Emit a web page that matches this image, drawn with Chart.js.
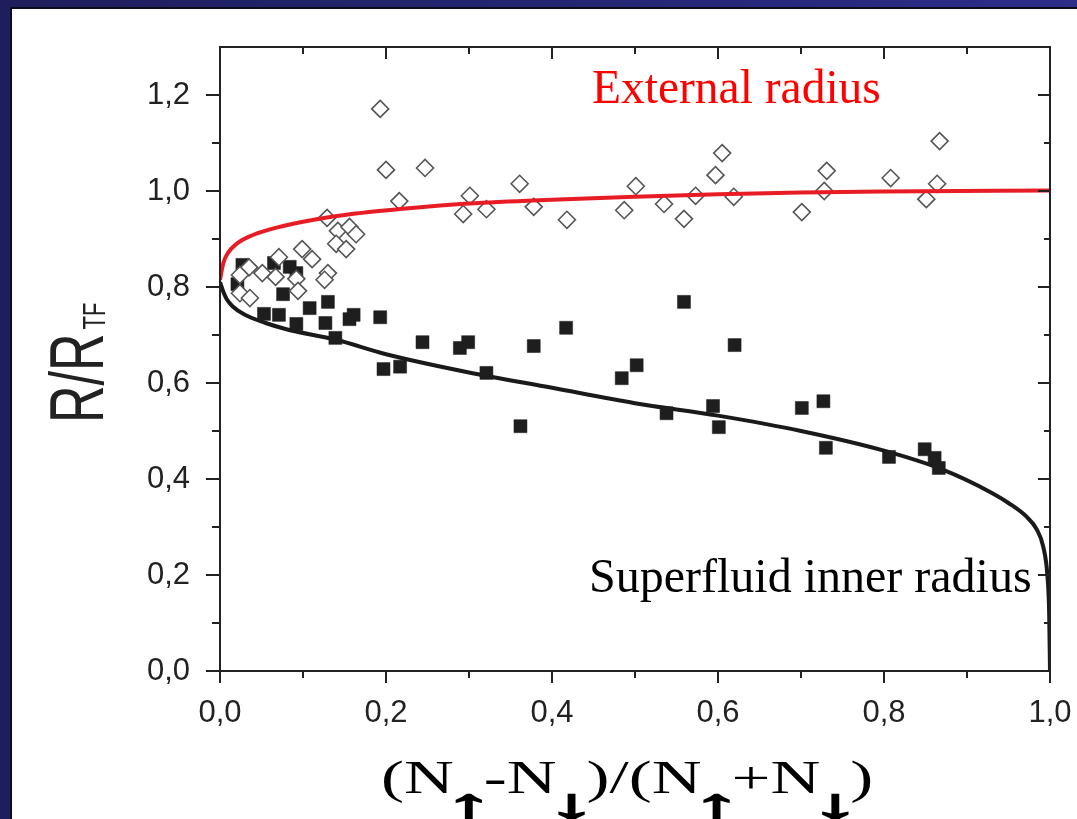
<!DOCTYPE html>
<html>
<head>
<meta charset="utf-8">
<script src="https://cdn.jsdelivr.net/npm/chart.js@4.4.1/dist/chart.umd.min.js"></script>
<style>
  html, body { margin: 0; padding: 0; }
  body {
    width: 1077px; height: 819px; overflow: hidden; position: relative;
    background: linear-gradient(90deg, #1e1e5c 0%, #242571 50%, #2c2d89 100%);
  }
  #panel {
    position: absolute; left: 10px; top: 7px; right: 0; bottom: 0;
    background: #fff; border-top: 2px solid #0b0b1e; border-left: 2px solid #0b0b1e;
  }
  #wrap { position: absolute; left: 0; top: 0; width: 1077px; height: 819px; }
</style>
</head>
<body>
<div id="panel"></div>
<div id="wrap"><canvas id="chart"></canvas></div>
<script>
// polarization values and radii
const diamondX = [0.193, 0.200, 0.247, 0.216, 0.301, 0.293, 0.321, 0.361, 0.378, 0.418,
                  0.487, 0.501, 0.535, 0.559, 0.573, 0.597, 0.605, 0.619, 0.701, 0.728,
                  0.731, 0.808, 0.851, 0.864, 0.867, 0.129, 0.142, 0.156, 0.164, 0.140,
                  0.152, 0.099, 0.111, 0.071, 0.067, 0.051, 0.035, 0.024, 0.024, 0.036,
                  0.092, 0.094, 0.130, 0.126];
const diamondY = [1.171, 1.044, 1.048, 0.979, 0.990, 0.952, 0.962, 1.015, 0.967, 0.940,
                  0.960, 1.010, 0.973, 0.942, 0.990, 1.033, 1.079, 0.988, 0.956, 1.000,
                  1.042, 1.027, 0.983, 1.015, 1.104, 0.944, 0.917, 0.925, 0.910, 0.890,
                  0.879, 0.879, 0.858, 0.862, 0.821, 0.829, 0.841, 0.825, 0.787, 0.777,
                  0.817, 0.792, 0.829, 0.815];

const squareX = [0.027, 0.021, 0.065, 0.084, 0.092, 0.076, 0.053, 0.071, 0.092, 0.108,
                 0.130, 0.127, 0.139, 0.156, 0.161, 0.193, 0.197, 0.217, 0.244, 0.289,
                 0.299, 0.321, 0.362, 0.378, 0.417, 0.484, 0.502, 0.538, 0.559, 0.594,
                 0.601, 0.620, 0.701, 0.727, 0.730, 0.806, 0.849, 0.861, 0.866];
const squareY = [0.846, 0.806, 0.850, 0.842, 0.829, 0.785, 0.744, 0.742, 0.723, 0.756,
                 0.769, 0.725, 0.694, 0.733, 0.742, 0.737, 0.629, 0.634, 0.685, 0.673,
                 0.685, 0.621, 0.510, 0.677, 0.715, 0.610, 0.637, 0.537, 0.769, 0.552,
                 0.508, 0.679, 0.548, 0.562, 0.465, 0.446, 0.462, 0.444, 0.423];

// theory curves, sampled by eye
const outerX = [0, 0.004, 0.01, 0.02, 0.035, 0.06, 0.1, 0.15, 0.22, 0.3, 0.4, 0.5, 0.6, 0.7, 0.8, 1.0];
const outerY = [0.815, 0.85, 0.872, 0.89, 0.905, 0.92, 0.936, 0.95, 0.963, 0.974, 0.982, 0.988, 0.993, 0.997, 0.999, 1.001];

const innerX = [0, 0.004, 0.008, 0.015, 0.03, 0.055, 0.08, 0.14, 0.2, 0.3, 0.4, 0.5, 0.6, 0.7, 0.8,
                0.87, 0.93, 0.95, 0.972, 0.984, 0.992, 0.997, 0.999, 1.0];
const innerY = [0.81, 0.79, 0.775, 0.76, 0.742, 0.725, 0.712, 0.69, 0.66, 0.622, 0.59, 0.558, 0.532, 0.5, 0.459,
                0.42, 0.371, 0.35, 0.321, 0.295, 0.258, 0.196, 0.12, 0.0];

const xTickValues = [0, 0.2, 0.4, 0.6, 0.8, 1.0];
const xTickLabels = ['0,0', '0,2', '0,4', '0,6', '0,8', '1,0'];
const xMinorValues = [0.1, 0.3, 0.5, 0.7, 0.9];
const yTickValues = [0, 0.2, 0.4, 0.6, 0.8, 1.0, 1.2];
const yTickLabels = ['0,0', '0,2', '0,4', '0,6', '0,8', '1,0', '1,2'];
const yMinorValues = [0.1, 0.3, 0.5, 0.7, 0.9, 1.1];

const toPoints = (xs, ys) => xs.map((x, i) => ({ x: x, y: ys[i] }));

// frame with ticks out on left/bottom, in on top/right
const frameTicks = {
  id: 'frameTicks',
  afterDatasetsDraw(chart) {
    const { ctx, chartArea: a, scales } = chart;
    const xs = scales.x, ys = scales.y;
    ctx.save();
    ctx.strokeStyle = '#222';
    ctx.lineWidth = 2;
    ctx.strokeRect(a.left, a.top, a.right - a.left, a.bottom - a.top);
    ctx.beginPath();
    const xTick = (v, len) => {
      const px = Math.round(xs.getPixelForValue(v));
      ctx.moveTo(px, a.bottom); ctx.lineTo(px, a.bottom + len);
      ctx.moveTo(px, a.top); ctx.lineTo(px, a.top + len);
    };
    const yTick = (v, len) => {
      const py = Math.round(ys.getPixelForValue(v));
      ctx.moveTo(a.left, py); ctx.lineTo(a.left - len - 2, py);
      ctx.moveTo(a.right, py); ctx.lineTo(a.right - len, py);
    };
    xTickValues.forEach(v => xTick(v, 12));
    xMinorValues.forEach(v => xTick(v, 7));
    yTickValues.forEach(v => yTick(v, 12));
    yMinorValues.forEach(v => yTick(v, 6));
    ctx.stroke();
    ctx.restore();
  }
};

const slideText = {
  id: 'slideText',
  afterDraw(chart) {
    const ctx = chart.ctx;
    ctx.save();
    ctx.textBaseline = 'alphabetic';
    ctx.textAlign = 'left';

    ctx.fillStyle = '#ff0000';
    ctx.font = '47.5px "Liberation Serif"';
    ctx.fillText('External radius', 592, 103);

    ctx.fillStyle = '#000';
    ctx.font = '48px "Liberation Serif"';
    ctx.fillText('Superfluid inner radius', 589, 592);

    // x title, stretched like on the slide; arrows are subscripts
    const parts = [['(N', 0], ['\u2191', 1], ['-N', 0], ['\u2193', 1], [')/(N', 0],
                   ['\u2191', 1], ['+N', 0], ['\u2193', 1], [')', 0]];
    const sx = 1.5;
    const cell = 30 / sx;
    ctx.save();
    ctx.translate(381, 793);
    ctx.scale(sx, 1);
    ctx.strokeStyle = '#000';
    let x = 0;
    parts.forEach(([t, sub]) => {
      if (!sub) {
        ctx.font = '46px "Liberation Serif"';
        ctx.textAlign = 'left';
        ctx.fillText(t, x, 0);
        x += ctx.measureText(t).width;
        return;
      }
      ctx.font = '40px "Liberation Serif"';
      const m = ctx.measureText(t);
      const asc = m.actualBoundingBoxAscent, desc = m.actualBoundingBoxDescent;
      const inkW = m.actualBoundingBoxLeft + m.actualBoundingBoxRight;
      const kx = (24 / sx) / inkW;
      const ky = 27 / (asc + desc);
      ctx.save();
      ctx.translate(x + cell / 2, 1);
      ctx.scale(kx, ky);
      ctx.textAlign = 'center';
      ctx.lineWidth = 1.6;
      ctx.fillText(t, 0, asc);
      ctx.strokeText(t, 0, asc);
      ctx.restore();
      x += cell;
    });
    ctx.restore();

    // y title
    ctx.save();
    ctx.fillStyle = '#222';
    ctx.textAlign = 'left';
    ctx.translate(103, 423);
    ctx.rotate(-Math.PI / 2);
    ctx.scale(1, 1.45);
    ctx.font = '52px "Liberation Sans"';
    ctx.fillText('R/R', 0, 0);
    const w = ctx.measureText('R/R').width;
    ctx.font = '22px "Liberation Sans"';
    ctx.fillText('TF', w + 4, 1.5);
    ctx.restore();

    ctx.restore();
  }
};

const tickFont = { family: '"Liberation Sans", Arial, sans-serif', size: 31 };

new Chart(document.getElementById('chart'), {
  type: 'scatter',
  data: {
    datasets: [
      {
        label: 'External radius (theory)',
        data: toPoints(outerX, outerY),
        showLine: true,
        borderColor: '#e81c24',
        borderWidth: 4,
        pointRadius: 0,
        cubicInterpolationMode: 'monotone',
        order: 1
      },
      {
        label: 'External radius',
        data: toPoints(diamondX, diamondY),
        pointStyle: 'rectRot',
        pointRadius: 8.5,
        backgroundColor: '#ffffff',
        borderColor: '#555555',
        borderWidth: 1.6,
        order: 2
      },
      {
        label: 'Superfluid inner radius',
        data: toPoints(squareX, squareY),
        pointStyle: 'rect',
        pointRadius: 9.2,
        backgroundColor: '#1e1e1e',
        borderColor: '#1e1e1e',
        borderWidth: 0.5,
        order: 3
      },
      {
        label: 'Superfluid inner radius (theory)',
        data: toPoints(innerX, innerY),
        showLine: true,
        borderColor: '#1a1a1a',
        borderWidth: 4,
        pointRadius: 0,
        cubicInterpolationMode: 'monotone',
        order: 4
      }
    ]
  },
  options: {
    responsive: true,
    maintainAspectRatio: false,
    animation: false,
    layout: { padding: { left: 0, top: 47, right: 27, bottom: 0 } },
    plugins: {
      legend: { display: false },
      tooltip: { enabled: false }
    },
    scales: {
      x: {
        type: 'linear',
        min: 0,
        max: 1.0,
        grid: { display: false },
        border: { display: false },
        afterBuildTicks: s => { s.ticks = xTickValues.map(v => ({ value: v })); },
        afterFit: s => { s.height = 148; s.paddingLeft = 0; s.paddingRight = 0; },
        ticks: {
          font: tickFont,
          color: '#222',
          padding: 16,
          maxRotation: 0,
          autoSkip: false,
          callback: (v, i) => xTickLabels[i]
        }
      },
      y: {
        type: 'linear',
        min: 0,
        max: 1.3,
        grid: { display: false },
        border: { display: false },
        afterBuildTicks: s => { s.ticks = yTickValues.map(v => ({ value: v })); },
        afterFit: s => { s.width = 220; s.paddingTop = 0; s.paddingBottom = 0; },
        ticks: {
          font: tickFont,
          color: '#222',
          padding: 22,
          autoSkip: false,
          callback: (v, i) => yTickLabels[i]
        }
      }
    }
  },
  plugins: [frameTicks, slideText]
});
</script>
</body>
</html>
